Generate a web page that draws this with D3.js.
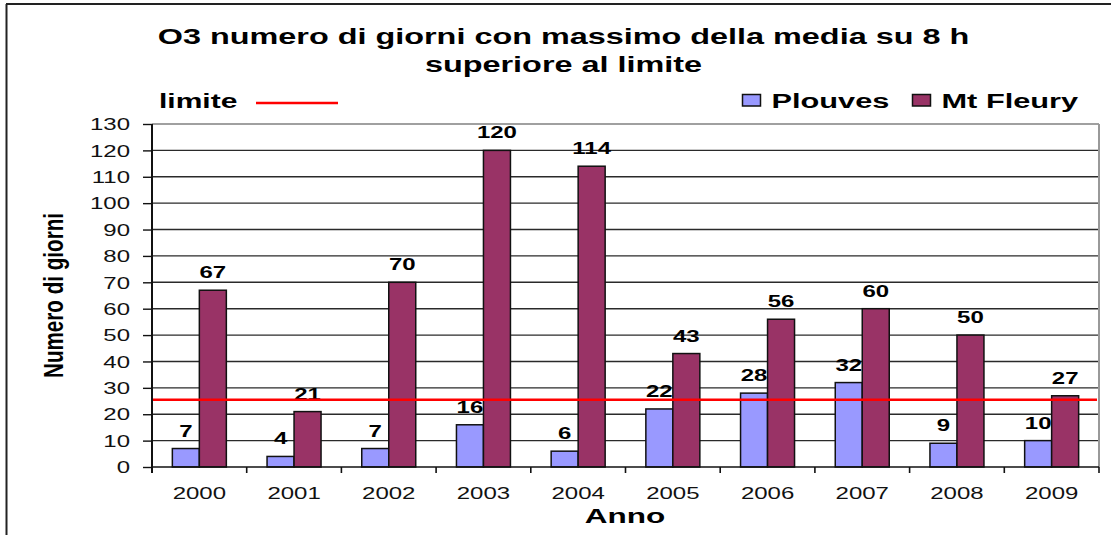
<!DOCTYPE html>
<html>
<head>
<meta charset="utf-8">
<script src="https://cdn.jsdelivr.net/npm/d3@7"></script>
<style>
  body { margin: 0; background: #fff; }
  text { font-family: "Liberation Sans", Arial, sans-serif; }
</style>
</head>
<body>
<div id="chart"></div>
<script>
// data
const years = ["2000", "2001", "2002", "2003", "2004", "2005", "2006", "2007", "2008", "2009"];
const plouves = [7, 4, 7, 16, 6, 22, 28, 32, 9, 10];
const mtFleury = [67, 21, 70, 120, 114, 43, 56, 60, 50, 27];
const seriesNames = ["Plouves", "Mt Fleury"];
const limite = 25.5;

const width = 1111;
const height = 535;
const sx = 1.5; // the original picture is stretched sideways
const margin = { left: 152, right: 12, top: 124, bottom: 68 };
const colors = { "Plouves": "#9999ff", "Mt Fleury": "#993366" };

const svg = d3.select("#chart").append("svg")
  .attr("width", width)
  .attr("height", height);

// outer frame (only left and top visible)
svg.append("line").attr("x1", 6.5).attr("x2", 6.5).attr("y1", 4).attr("y2", height)
  .attr("stroke", "#222").attr("stroke-width", 2);
svg.append("line").attr("x1", 6).attr("x2", width).attr("y1", 4).attr("y2", 4)
  .attr("stroke", "#222").attr("stroke-width", 2);

const x0 = d3.scaleBand()
  .domain(years)
  .range([margin.left, width - margin.right])
  .paddingInner(0).paddingOuter(0);

const x1 = d3.scaleBand()
  .domain(seriesNames)
  .range([0, x0.bandwidth()])
  .paddingInner(0).paddingOuter(0.754);

const y = d3.scaleLinear()
  .domain([0, 130])
  .range([height - margin.bottom, margin.top]);

const rows = years.map((yr, i) => ({ year: yr, values: [
  { key: "Plouves", value: plouves[i] },
  { key: "Mt Fleury", value: mtFleury[i] }
]}));

// gridlines
svg.append("g")
  .selectAll("line")
  .data(y.ticks(13).filter(d => d > 0 && d < 130))
  .enter().append("line")
  .attr("x1", margin.left).attr("x2", width - margin.right)
  .attr("y1", d => y(d)).attr("y2", d => y(d))
  .attr("stroke", "#2a2a2a").attr("stroke-width", 1.4);

// plot border top / right
svg.append("line")
  .attr("x1", margin.left).attr("x2", width - margin.right)
  .attr("y1", y(130)).attr("y2", y(130))
  .attr("stroke", "#808080").attr("stroke-width", 1.5);
svg.append("line")
  .attr("x1", width - margin.right).attr("x2", width - margin.right)
  .attr("y1", y(130)).attr("y2", y(0))
  .attr("stroke", "#999").attr("stroke-width", 2);

// bars
const groups = svg.append("g")
  .selectAll("g")
  .data(rows)
  .enter().append("g")
  .attr("transform", d => "translate(" + x0(d.year) + ",0)");

groups.selectAll("rect")
  .data(d => d.values)
  .enter().append("rect")
  .attr("x", d => x1(d.key))
  .attr("y", d => y(d.value))
  .attr("width", x1.bandwidth())
  .attr("height", d => y(0) - y(d.value))
  .attr("fill", d => colors[d.key])
  .attr("stroke", "#111")
  .attr("stroke-width", 1.5);

// value labels
groups.selectAll("text")
  .data(d => d.values)
  .enter().append("text")
  .attr("transform", d => "translate(" + (x1(d.key) + x1.bandwidth() / 2) + "," + (y(d.value) - 12) + ") scale(" + sx + ",1)")
  .attr("text-anchor", "middle")
  .style("font-size", "16px")
  .style("font-weight", "bold")
  .text(d => d.value);

// limit line
svg.append("line")
  .attr("x1", margin.left).attr("x2", width - margin.right - 2)
  .attr("y1", y(limite)).attr("y2", y(limite))
  .attr("stroke", "#ff0000").attr("stroke-width", 2.5);

// y axis
const yAxis = svg.append("g")
  .attr("transform", "translate(" + margin.left + ",0)")
  .call(d3.axisLeft(y).ticks(13).tickSize(9).tickPadding(0));
yAxis.select(".domain").attr("stroke", "#111").attr("stroke-width", 2)
  .attr("d", "M0," + y(130) + "V" + (y(0) + 6));
yAxis.selectAll(".tick line").attr("stroke", "#111").attr("stroke-width", 1.4);
yAxis.selectAll(".tick text")
  .attr("x", -22 / sx)
  .attr("dy", "0.36em")
  .attr("transform", "scale(" + sx + ",1)")
  .attr("fill", "#111")
  .style("font-size", "16px")
  .style("font-family", "'Liberation Sans', Arial, sans-serif");

// x axis
const xAxis = svg.append("g")
  .attr("transform", "translate(0," + y(0) + ")")
  .call(d3.axisBottom(x0).tickSize(0).tickPadding(0));
xAxis.select(".domain").attr("stroke", "#111").attr("stroke-width", 1.6)
  .attr("d", "M" + margin.left + ",0H" + (width - margin.right));
xAxis.selectAll(".tick text")
  .attr("y", 32)
  .attr("dy", 0)
  .attr("transform", "scale(" + sx + ",1)")
  .attr("fill", "#111")
  .style("font-size", "16px")
  .style("font-family", "'Liberation Sans', Arial, sans-serif");

// x ticks at category boundaries
const bounds = years.map(d => x0(d)).concat([width - margin.right]);
svg.append("g")
  .selectAll("line")
  .data(bounds)
  .enter().append("line")
  .attr("x1", d => d).attr("x2", d => d)
  .attr("y1", y(0)).attr("y2", y(0) + 6)
  .attr("stroke", "#111").attr("stroke-width", 1.6);

// title
const title = ["O3 numero di giorni con massimo della media su 8 h", "superiore al limite"];
svg.append("g").selectAll("text")
  .data(title)
  .enter().append("text")
  .attr("transform", (d, i) => "translate(563.5," + (43.5 + i * 28.5) + ") scale(" + sx + ",1)")
  .attr("text-anchor", "middle")
  .style("font-size", "21.6px")
  .style("font-weight", "bold")
  .text(d => d);

// axis titles
svg.append("text")
  .attr("transform", "translate(625,523) scale(" + sx + ",1)")
  .attr("text-anchor", "middle")
  .style("font-size", "21px")
  .style("font-weight", "bold")
  .text("Anno");

svg.append("text")
  .attr("transform", "translate(63,295.5) scale(" + sx + ",1) rotate(-90)")
  .attr("text-anchor", "middle")
  .attr("textLength", 165)
  .attr("lengthAdjust", "spacingAndGlyphs")
  .style("font-size", "19px")
  .style("font-weight", "bold")
  .text("Numero di giorni");

// legend
svg.append("text")
  .attr("transform", "translate(159,108) scale(" + sx + ",1)")
  .style("font-size", "20px")
  .style("font-weight", "bold")
  .text("limite");
svg.append("line")
  .attr("x1", 256).attr("x2", 338).attr("y1", 103).attr("y2", 103)
  .attr("stroke", "#ff0000").attr("stroke-width", 2.5);

const legendPos = [742, 912];
const legend = svg.append("g").selectAll("g")
  .data(seriesNames)
  .enter().append("g")
  .attr("transform", (d, i) => "translate(" + legendPos[i] + ",0)");
legend.append("rect")
  .attr("x", 0.5).attr("y", 94.5)
  .attr("width", 18).attr("height", 11.5)
  .attr("fill", d => colors[d])
  .attr("stroke", "#111").attr("stroke-width", 1.5);
legend.append("text")
  .attr("transform", "translate(29.5,108) scale(" + sx + ",1)")
  .style("font-size", "20.5px")
  .style("font-weight", "bold")
  .text(d => d);
</script>
</body>
</html>
